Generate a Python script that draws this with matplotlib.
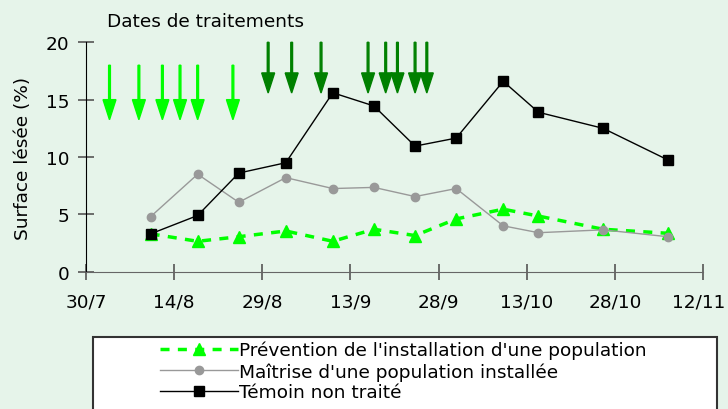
"""Surface lésée : prévention vs maîtrise vs témoin, avec dates de traitements."""

import matplotlib
matplotlib.use("Agg")
import matplotlib.pyplot as plt
import matplotlib.dates as mdates
import matplotlib.transforms as mtransforms
from matplotlib.lines import Line2D
from matplotlib.patches import Rectangle
import pandas as pd

plt.rcParams["font.family"] = ["DejaVu Sans"]

# --- data -------------------------------------------------------------------
dates = pd.to_datetime([
    "2003-08-10", "2003-08-18", "2003-08-25", "2003-09-02", "2003-09-10", "2003-09-17",
    "2003-09-24", "2003-10-01", "2003-10-09", "2003-10-15", "2003-10-26", "2003-11-06",
])
prevention = [3.3, 2.65, 3.05, 3.55, 2.65, 3.7, 3.15, 4.6, 5.45, 4.85, 3.7, 3.35]
maitrise = [4.8, 8.5, 6.05, 8.2, 7.25, 7.35, 6.55, 7.25, 4.0, 3.4, 3.65, 3.05]
temoin = [3.3, 4.9, 8.6, 9.5, 15.6, 14.45, 10.95, 11.65, 16.6, 13.9, 12.5, 9.75]

labels = [
    "Prévention de l'installation d'une population",
    "Maîtrise d'une population installée",
    "Témoin non traité",
]

# treatment dates (arrows)
treat_prev = pd.to_datetime([
    "2003-08-03", "2003-08-08", "2003-08-12", "2003-08-15", "2003-08-18", "2003-08-24",
])
treat_maitrise = pd.to_datetime([
    "2003-08-30", "2003-09-03", "2003-09-08", "2003-09-16", "2003-09-19",
    "2003-09-21", "2003-09-24", "2003-09-26",
])

tick_dates = pd.to_datetime([
    "2003-07-30", "2003-08-14", "2003-08-29", "2003-09-13",
    "2003-09-28", "2003-10-13", "2003-10-28", "2003-11-12",
])
tick_labels = ["30/7", "14/8", "29/8", "13/9", "28/9", "13/10", "28/10", "12/11"]

# --- figure -----------------------------------------------------------------
bg = "#E6F4EA"
fs = 13.3
fig = plt.figure(figsize=(7.28, 4.10), dpi=100)
fig.patch.set_facecolor(bg)
ax = fig.add_axes([86 / 728, 1 - 272.7 / 410, 617 / 728, 229.4 / 410])
ax.set_facecolor(bg)

ax.plot(dates, prevention, color="#00FF00", lw=2.5, ls=(0, (2.6, 2.4)),
        marker="^", ms=8.5, mec="#00FF00", zorder=3)
ax.plot(dates, maitrise, color="#999999", lw=1, marker="o", ms=6, zorder=4)
ax.plot(dates, temoin, color="black", lw=1, marker="s", ms=6.5, zorder=5)

# arrows for treatment dates
for d in treat_prev:
    x = mdates.date2num(d)
    ax.arrow(x, 18, 0, -4.75, width=0.3, head_width=2.2, head_length=1.75,
             length_includes_head=True, color="#00FF00", clip_on=False, zorder=6)
for d in treat_maitrise:
    x = mdates.date2num(d)
    ax.arrow(x, 20, 0, -4.42, width=0.3, head_width=2.2, head_length=1.75,
             length_includes_head=True, color="#008000", clip_on=False, zorder=6)

ax.set_xlim(tick_dates[0], tick_dates[-1])
ax.set_ylim(0, 20)
ax.set_xticks(tick_dates)
ax.set_xticklabels(tick_labels)
ax.set_yticks([0, 5, 10, 15, 20])

ax.spines[["top", "right"]].set_visible(False)
ax.spines["left"].set_color("black")
ax.spines["bottom"].set_color("#666666")
ax.tick_params(axis="both", direction="inout", length=12, width=1.2, labelsize=fs,
               colors="#555555", labelcolor="black")
ax.tick_params(axis="x", pad=9)
ax.tick_params(axis="y", pad=6)
ax.set_ylabel("Surface lésée (%)", fontsize=fs, labelpad=10)

# keep the last date label inside the figure
last = ax.get_xticklabels()[-1]
last.set_transform(last.get_transform() + mtransforms.ScaledTranslation(-4 / 100, 0, fig.dpi_scale_trans))

fig.text(107 / 728, 1 - 22 / 410, "Dates de traitements", fontsize=fs, ha="left", va="center")

# legend box running off the figure edge
fig.patches.append(Rectangle((93 / 728, -0.05), 624 / 728, (410 - 337.7) / 410 + 0.05,
                             transform=fig.transFigure, facecolor="white",
                             edgecolor="#333333", lw=1.5, zorder=0))
handles = [
    Line2D([], [], color="#00FF00", lw=2.5, ls=(0, (2.6, 2.4)), marker="^", ms=8.5),
    Line2D([], [], color="#999999", lw=1, marker="o", ms=6),
    Line2D([], [], color="black", lw=1, marker="s", ms=6.5),
]
fig.legend(handles, labels, loc="upper left", bbox_to_anchor=(160 / 728, 1 - 342 / 410),
           frameon=False, fontsize=fs, handlelength=4.2, handletextpad=0.1,
           labelspacing=0.14, borderaxespad=0, borderpad=0)

fig.savefig("out.png", dpi=100, facecolor=fig.get_facecolor())
plt.close(fig)
